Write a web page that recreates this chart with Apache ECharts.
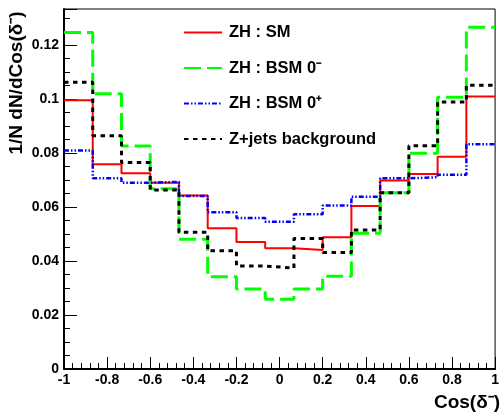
<!DOCTYPE html>
<html>
<head>
<meta charset="utf-8">
<script src="https://cdn.jsdelivr.net/npm/echarts@6/dist/echarts.min.js"></script>
<style>
  html, body { margin: 0; padding: 0; background: #fff; }
  #chart { width: 502px; height: 415px; }
</style>
</head>
<body>
<div id="chart"></div>
<script>
// Normalised cos(delta-) distributions, 15 equal bins on [-1, 1]
var xMin = -1, xMax = 1, nBins = 15;
var seriesNames = ['ZH : SM', 'ZH : BSM 0\u207B', 'ZH : BSM 0\u207A', 'Z+jets background'];
var smValues = [0.0995, 0.0758, 0.0725, 0.0690, 0.0642, 0.0521, 0.0470, 0.0447, 0.0441, 0.0488, 0.0604, 0.0698, 0.0722, 0.0786, 0.1009];
var bsmMinusValues = [0.1246, 0.1019, 0.0826, 0.0667, 0.0480, 0.0342, 0.0296, 0.0258, 0.0296, 0.0343, 0.0503, 0.0653, 0.0799, 0.1006, 0.1265];
var bsmPlusValues = [0.0809, 0.0706, 0.0690, 0.0693, 0.0641, 0.0580, 0.0559, 0.0545, 0.0573, 0.0605, 0.0638, 0.0706, 0.0710, 0.0719, 0.0832];
var zjetsValues = [0.1062, 0.0864, 0.0765, 0.0663, 0.0506, 0.0438, 0.0381, 0.0374, 0.0483, 0.0431, 0.0515, 0.0653, 0.0827, 0.0989, 0.1051];
var yMax = 0.1333;

// Build step points: one point per bin low edge, plus the last high edge
function histPoints(values) {
  var w = (xMax - xMin) / nBins;
  var pts = values.map(function (v, i) { return [xMin + i * w, v]; });
  pts.push([xMax, values[values.length - 1]]);
  return pts;
}

var font = 'Liberation Sans, Arial, Helvetica, sans-serif';

function hist(name, values, color, width, dash) {
  return {
    name: name,
    type: 'line',
    step: 'end',
    symbol: 'none',
    data: histPoints(values),
    lineStyle: { color: color, width: width, type: dash },
    itemStyle: { color: color },
    animation: false
  };
}

var chart = echarts.init(document.getElementById('chart'), null, { renderer: 'canvas' });
chart.setOption({
  animation: false,
  backgroundColor: '#fff',
  grid: {
    left: 64, right: 2, top: 9, bottom: 46,
    show: true, borderColor: '#000', borderWidth: 1
  },
  legend: {
    orient: 'vertical',
    left: 183, top: 24, padding: 0,
    itemWidth: 38, itemHeight: 16, itemGap: 18.5,
    itemStyle: { opacity: 0 },
    textStyle: { fontFamily: font, fontWeight: 'bold', fontSize: 16.5, color: '#000', padding: [0, 0, 0, 2] },
    data: seriesNames
  },
  xAxis: {
    type: 'value', min: xMin, max: xMax, interval: 0.2,
    axisLine: { show: true, onZero: false, lineStyle: { color: '#000', width: 2 } },
    axisTick: { show: true, inside: true, length: 12, lineStyle: { color: '#000', width: 1 } },
    minorTick: { show: true, splitNumber: 5, length: 6, lineStyle: { color: '#000', width: 1 } },
    splitLine: { show: false },
    axisLabel: {
      fontFamily: font, fontWeight: 'bold', fontSize: 14, color: '#000', margin: 4,
      formatter: function (v) { return String(Math.round(v * 10) / 10); }
    }
  },
  yAxis: {
    type: 'value', min: 0, max: yMax, interval: 0.02,
    axisLine: { show: true, onZero: false, lineStyle: { color: '#000', width: 2 } },
    axisTick: { show: true, inside: true, length: 13, lineStyle: { color: '#000', width: 1 } },
    minorTick: { show: true, splitNumber: 4, length: 6, lineStyle: { color: '#000', width: 1 } },
    splitLine: { show: false },
    axisLabel: {
      fontFamily: font, fontWeight: 'bold', fontSize: 14, color: '#000', margin: 5,
      showMaxLabel: false,
      formatter: function (v) { return String(Math.round(v * 100) / 100); }
    }
  },
  series: [
    hist(seriesNames[0], smValues, '#ff0000', 2, 'solid'),
    hist(seriesNames[1], bsmMinusValues, '#00ff00', 3, [17, 6]),
    hist(seriesNames[2], bsmPlusValues, '#0000ff', 2.5, [5, 2, 1.5, 2, 1.5, 2]),
    hist(seriesNames[3], zjetsValues, '#000000', 3, [4.5, 4.5])
  ],
  graphic: [
    {
      type: 'text', x: 500, y: 403,
      style: {
        text: 'Cos(\u03B4\u207B)', fontFamily: font, fontWeight: 'bold', fontSize: 19,
        fill: '#000', align: 'right', verticalAlign: 'middle'
      }
    },
    {
      type: 'text', x: 17, y: 83, rotation: Math.PI / 2,
      style: {
        text: '1/N dN/dCos(\u03B4\u207B)', fontFamily: font, fontWeight: 'bold', fontSize: 19,
        fill: '#000', align: 'center', verticalAlign: 'middle'
      }
    }
  ]
});
</script>
</body>
</html>
